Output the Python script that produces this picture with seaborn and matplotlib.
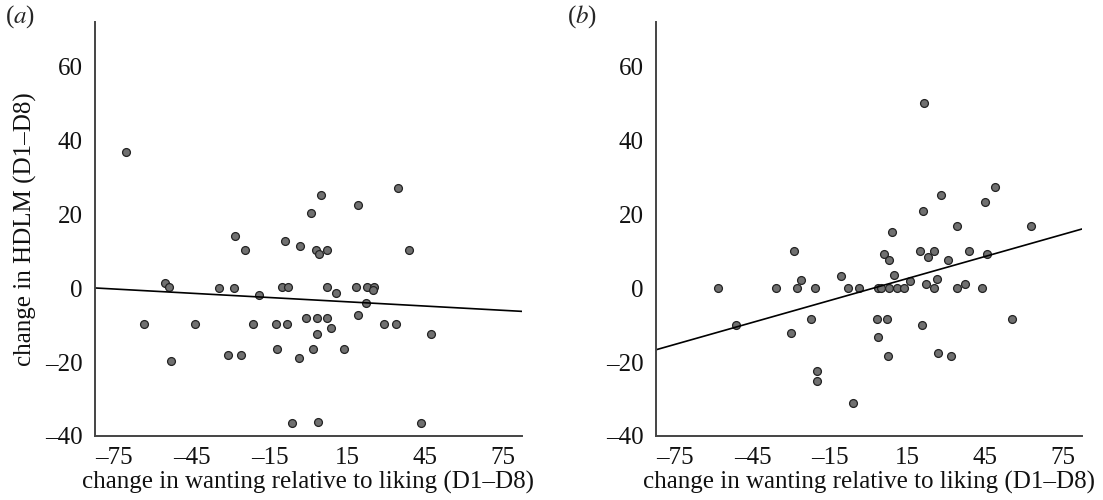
import numpy as np
import pandas as pd
import matplotlib
matplotlib.use("Agg")
import matplotlib.pyplot as plt
import seaborn as sns

# ---- data panel (a) ----
a_x = [-70.6, -28.4, -24.5, -55.5, -53.8, -34.6, -28.8, -19.1, -63.6, -44.0,
       -21.6, -53.2, -31.1, -26.1,
       4.9, 34.7, 19.2, 1.1, -9.0, -3.3, 2.8, 4.0, 7.3, 39.0,
       -10.3, -8.1, 7.2, 10.7, 18.3, 22.5, 25.3, 24.9, 22.1, 19.2,
       -12.7, -8.2, -0.8, 3.2, 7.1, 3.1, 8.7, 29.2, 33.7, 47.5,
       -12.2, 1.8, 13.6, -3.6, -6.2, 3.6, 43.6]
a_y = [36.7, 14.1, 10.3, 1.3, 0.3, 0.0, 0.0, -1.8, -9.8, -9.8,
       -9.7, -19.8, -18.0, -18.0,
       25.3, 27.0, 22.6, 20.3, 12.8, 11.4, 10.3, 9.2, 10.3, 10.3,
       0.3, 0.3, 0.3, -1.4, 0.3, 0.3, 0.3, -0.6, -4.0, -7.3,
       -9.8, -9.8, -8.1, -8.1, -8.1, -12.3, -10.9, -9.8, -9.8, -12.3,
       -16.4, -16.4, -16.4, -18.9, -36.5, -36.1, -36.5]

# ---- data panel (b) ----
b_x = [-58.4, -51.5, -36.1,
       21.3, 48.9, 27.7, 45.1, 21.1, 33.9, 62.6, 8.9, -29.0, 19.8,
       25.3, 38.8, 6.0, 7.7, 22.8, 30.7, 45.7, -26.4, -10.9, 9.7,
       15.8, 26.3, 37.0, 22.2, -28.0, -20.8, -8.3, -3.9, 3.3, 4.7,
       7.7, 11.0, 13.4, 25.3, 33.9, 43.6, -22.5, 3.0, 6.9, 55.2,
       -30.4, 3.4, 20.7, 7.4, 26.8, 31.7, -20.2, -20.2, -6.3]
b_y = [0.0, -10.0, 0.0,
       50.2, 27.4, 25.2, 23.4, 21.0, 16.8, 16.8, 15.1, 10.1, 10.1,
       10.1, 10.1, 9.2, 7.6, 8.4, 7.5, 9.2, 2.1, 3.3, 3.5,
       1.8, 2.5, 1.0, 1.0, 0.0, 0.0, 0.0, 0.0, 0.0, 0.0,
       0.0, 0.0, 0.0, 0.0, 0.0, 0.0, -8.3, -8.3, -8.3, -8.3,
       -12.2, -13.1, -10.1, -18.3, -17.5, -18.3, -22.3, -25.1, -31.2]

x_ticks = [-75, -45, -15, 15, 45, 75]
y_ticks = [-40, -20, 0, 20, 40, 60]
x_label = "change in wanting relative to liking (D1–D8)"
y_label = "change in HDLM (D1–D8)"
panel_labels = [r"($\mathit{a}$)", r"($\mathit{b}$)"]

sns.set_theme(style="white")
plt.rcParams["font.family"] = ["Liberation Serif", "DejaVu Serif"]
plt.rcParams["mathtext.fontset"] = "stix"
plt.rcParams["axes.unicode_minus"] = False

FS = 18

fig = plt.figure(figsize=(11.03, 5.0), dpi=100)
ax_a = fig.add_axes([95 / 1103, 1 - 436 / 500, 427 / 1103, 414 / 500])
ax_b = fig.add_axes([656 / 1103, 1 - 436 / 500, 426 / 1103, 414 / 500])

dfs = [pd.DataFrame({"x": a_x, "y": a_y}), pd.DataFrame({"x": b_x, "y": b_y})]

def fmt(v, pos=None):
    v = int(round(v))
    return ("–" + str(-v)) if v < 0 else str(v)

for ax, df, lab, lx in zip([ax_a, ax_b], dfs, panel_labels, [5, 567]):
    ax.set_xlim(-82.5, 82.5)
    ax.set_ylim(-40, 72)
    sns.regplot(data=df, x="x", y="y", ax=ax, ci=None, truncate=False,
                scatter_kws=dict(s=32, color="#707070", edgecolor="#222222",
                                 linewidths=0.9, alpha=1),
                line_kws=dict(color="black", lw=1.2))
    ax.set_xlim(-82.5, 82.5)
    ax.set_ylim(-40, 72)
    ax.set_xticks(x_ticks)
    ax.set_yticks(y_ticks)
    ax.xaxis.set_major_formatter(plt.FuncFormatter(fmt))
    ax.yaxis.set_major_formatter(plt.FuncFormatter(fmt))
    ax.tick_params(length=0, labelsize=FS, colors="#111111")
    ax.tick_params(axis="y", pad=9)
    ax.tick_params(axis="x", pad=8)
    for s in ["top", "right"]:
        ax.spines[s].set_visible(False)
    for s in ["left", "bottom"]:
        ax.spines[s].set_color("#444444")
        ax.spines[s].set_linewidth(1.4)
    ax.set_xlabel(x_label, fontsize=FS, labelpad=1, color="#111111")
    ax.set_ylabel("")
    fig.text(lx / 1103, 1 - 17 / 500, lab, fontsize=FS, va="center", ha="left")

ax_a.set_ylabel(y_label, fontsize=FS, labelpad=6, color="#111111")

fig.savefig("out.png", dpi=100)
